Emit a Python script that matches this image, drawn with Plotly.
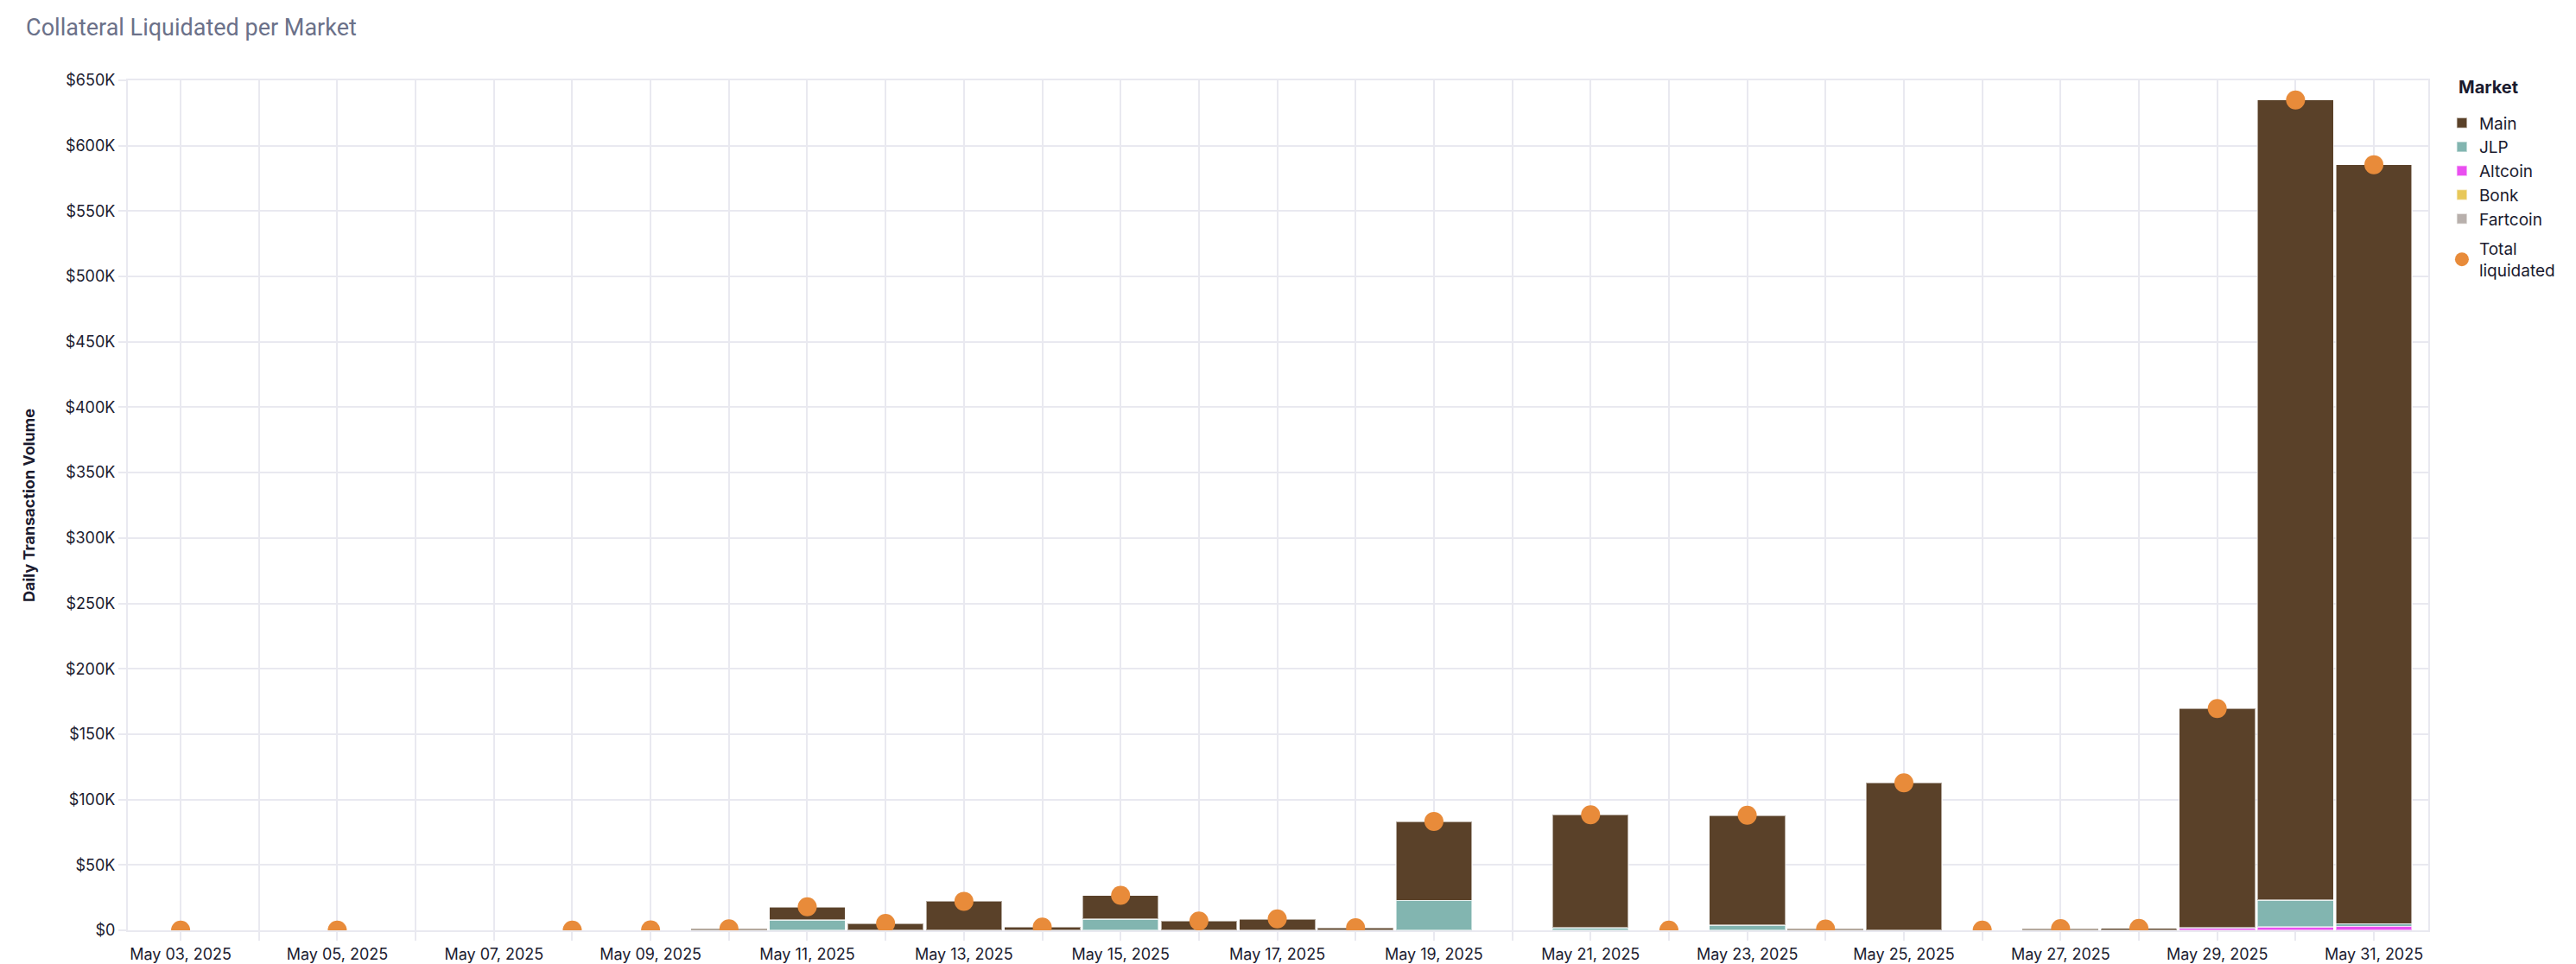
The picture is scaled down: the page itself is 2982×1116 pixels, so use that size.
import plotly.graph_objects as go

dates = ["2025-05-03", "2025-05-05", "2025-05-08", "2025-05-09", "2025-05-10",
         "2025-05-11", "2025-05-12", "2025-05-13", "2025-05-14", "2025-05-15",
         "2025-05-16", "2025-05-17", "2025-05-18", "2025-05-19", "2025-05-21",
         "2025-05-22", "2025-05-23", "2025-05-24", "2025-05-25", "2025-05-26",
         "2025-05-27", "2025-05-28", "2025-05-29", "2025-05-30", "2025-05-31"]

main = [150, 120, 200, 300, 1100, 10000, 5300, 22200, 2400, 18000,
        7100, 8500, 1900, 60400, 86400, 150, 84000, 1000, 112800, 100,
        1300, 1500, 167500, 612000, 580500]
jlp = [0, 0, 0, 0, 0, 8000, 0, 0, 0, 8700,
       0, 200, 100, 22900, 2000, 0, 4000, 0, 0, 0,
       0, 0, 600, 20500, 2000]
altcoin = [0, 0, 0, 0, 0, 0, 0, 0, 0, 0,
           0, 0, 0, 0, 0, 0, 0, 0, 0, 0,
           0, 0, 1500, 2500, 3000]
bonk = [0] * len(dates)
fartcoin = [0] * len(dates)

total = [a + b + c + d + e for a, b, c, d, e in zip(main, jlp, altcoin, bonk, fartcoin)]

tick_days = ["2025-05-%02d" % d for d in range(3, 32)]
tick_text = [("May %02d, 2025" % d) if d % 2 == 1 else "" for d in range(3, 32)]

y_ticks = list(range(0, 650001, 50000))
y_text = ["$0"] + ["$%dK" % (v // 1000) for v in y_ticks[1:]]

colors = {
    "Main": "#5a4129",
    "JLP": "#82b5b0",
    "Altcoin": "#ea4ff0",
    "Bonk": "#e8c85a",
    "Fartcoin": "#b8b0ac",
}

fig = go.Figure()
# stacking order bottom -> top
series = [("Fartcoin", fartcoin, 5), ("Bonk", bonk, 4), ("Altcoin", altcoin, 3),
          ("JLP", jlp, 2), ("Main", main, 1)]
for name, vals, rank in series:
    fig.add_trace(go.Bar(
        x=dates, y=vals, name=name, legendrank=rank, legendgroup="bars",
        marker=dict(color=colors[name], line=dict(color="rgba(255,255,255,0.55)", width=1.5)),
    ))

fig.add_trace(go.Scatter(
    x=dates, y=total, mode="markers", name="Total<br>liquidated",
    legendrank=6, legendgroup="tot",
    marker=dict(color="#e88b3a", size=22),
))

grid = "#e9e9f0"
fig.update_layout(
    width=2982, height=1116,
    barmode="stack", bargap=0.03,
    plot_bgcolor="white", paper_bgcolor="white",
    font=dict(family="Inter, Roboto, sans-serif", size=18, color="#1b1b2f"),
    title=dict(text="Collateral Liquidated per Market", x=0.0101, xanchor="left",
               y=0.9713, yanchor="middle",
               font=dict(family="Roboto, sans-serif", size=27, color="#6b7189")),
    margin=dict(l=148, r=171, t=93, b=39, autoexpand=False),
    legend=dict(
        xref="container", x=0.949, xanchor="left",
        yref="paper", y=0.969, yanchor="top",
        font=dict(size=19, color="#1b1b2f"),
        tracegroupgap=7, traceorder="grouped",
    ),
    showlegend=True,
    annotations=[dict(
        text="<b>Market</b>", xref="paper", yref="paper",
        x=1.0124, y=0.9919, xanchor="left", yanchor="middle",
        showarrow=False, font=dict(size=20, color="#1b1b2f"),
    )],
)
fig.update_xaxes(
    type="date",
    range=["2025-05-02 07:50", "2025-05-31 16:40"],
    tickvals=tick_days, ticktext=tick_text,
    showgrid=True, gridcolor=grid, gridwidth=2,
    ticks="outside", ticklen=10, tickcolor=grid, tickwidth=2,
    showline=True, linecolor=grid, linewidth=2, mirror=True,
    tickfont=dict(size=18),
    zeroline=False,
)
fig.update_yaxes(
    range=[0, 650000],
    tickvals=y_ticks, ticktext=y_text,
    showgrid=True, gridcolor=grid, gridwidth=2,
    ticks="outside", ticklen=9, tickcolor=grid, tickwidth=2,
    showline=True, linecolor=grid, linewidth=2, mirror=True,
    tickfont=dict(size=18),
    title=dict(text="<b>Daily Transaction Volume</b>", font=dict(size=18), standoff=30),
    zeroline=False,
)

fig.write_html("out.html", config={"displayModeBar": False},
               post_script="document.body.style.margin='0';")
